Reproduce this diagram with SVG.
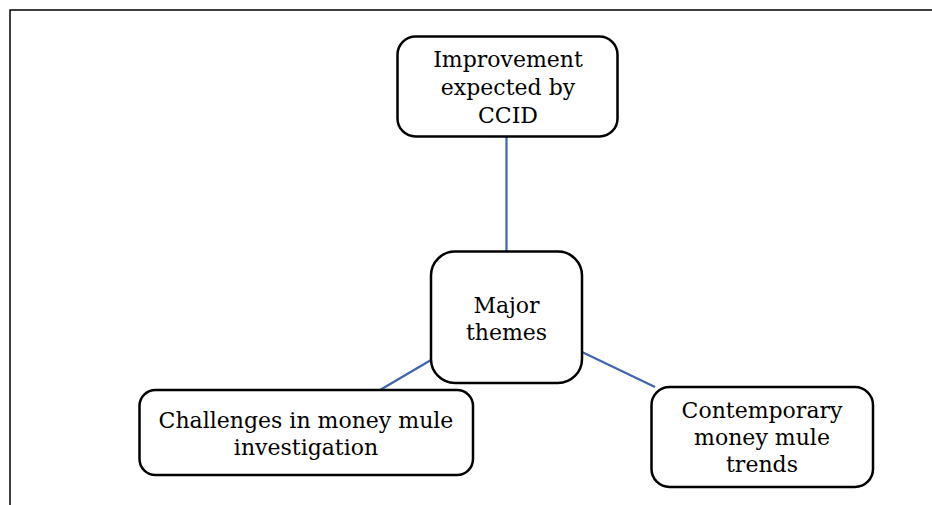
<svg xmlns="http://www.w3.org/2000/svg" width="932" height="505" viewBox="0 0 932 505">
<style>
.box{fill:#fff;stroke:#000;stroke-width:2.5}
.lbl{font-family:"DejaVu Serif","Liberation Serif",serif;font-size:22px;fill:#000;text-anchor:middle}
.con{stroke:#3f65ad;stroke-width:2.2;fill:none}
</style>
<rect width="932" height="505" fill="#fff"/>
<g id="frame"><path d="M10 505 V10 H932" fill="none" stroke="#000" stroke-width="1.5"/></g>
<g id="connectors">
<line class="con" x1="506.5" y1="137" x2="506.5" y2="251"/>
<line class="con" x1="431" y1="360" x2="380" y2="390"/>
<line class="con" x1="582" y1="352" x2="655" y2="387"/>
</g>
<g id="node-improvement">
<rect class="box" x="397.5" y="36.5" width="220" height="100" rx="18"/>
<text class="lbl" x="508" y="67">Improvement</text>
<text class="lbl" x="508" y="95">expected by</text>
<text class="lbl" x="508" y="123">CCID</text>
</g>
<g id="node-major">
<rect class="box" x="431" y="251.5" width="151" height="131.5" rx="24"/>
<text class="lbl" x="506.5" y="313">Major</text>
<text class="lbl" x="506.5" y="340">themes</text>
</g>
<g id="node-challenges">
<rect class="box" x="139.5" y="390" width="333.5" height="85" rx="16"/>
<text class="lbl" x="306" y="428">Challenges in money mule</text>
<text class="lbl" x="306" y="455">investigation</text>
</g>
<g id="node-contemporary">
<rect class="box" x="651.5" y="387" width="221.5" height="100" rx="18"/>
<text class="lbl" x="762" y="418">Contemporary</text>
<text class="lbl" x="762" y="445">money mule</text>
<text class="lbl" x="762" y="472">trends</text>
</g>
</svg>
